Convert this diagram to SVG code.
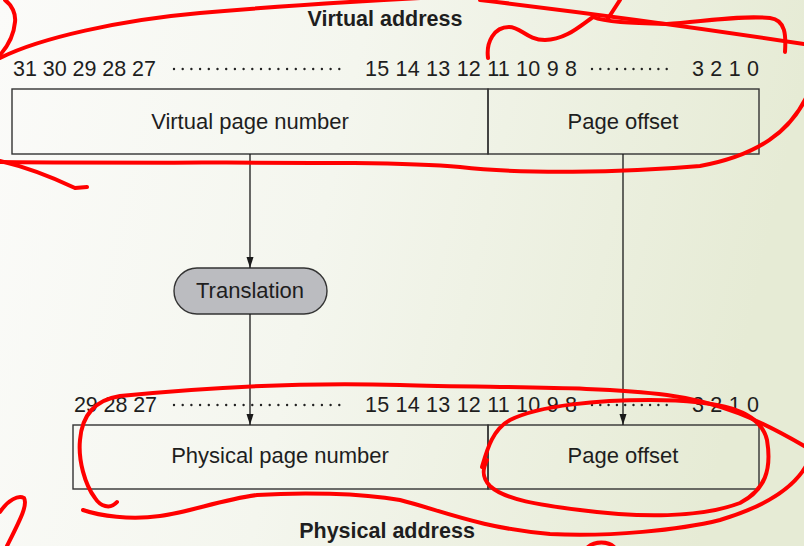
<svg xmlns="http://www.w3.org/2000/svg" width="804" height="546" viewBox="0 0 804 546">
<defs>
<linearGradient id="bg" x1="0" y1="0" x2="1" y2="0.15">
<stop offset="0" stop-color="#fbfbf9"/>
<stop offset="0.45" stop-color="#f4f6ee"/>
<stop offset="1" stop-color="#e6ebd5"/>
</linearGradient>
<marker id="ah" markerUnits="userSpaceOnUse" markerWidth="12" markerHeight="8" refX="11" refY="4" orient="auto" viewBox="0 0 12 8">
<path d="M0,0.5 L11,4 L0,7.5 Z" fill="#1a1a1a"/>
</marker>
</defs>
<style>
.t{font-family:"Liberation Sans",Arial,Helvetica,sans-serif;font-size:22px;fill:#1e1e1e}
.n{font-family:"Liberation Sans",Arial,Helvetica,sans-serif;font-size:21.5px;fill:#1e1e1e}
.b{font-family:"Liberation Sans",Arial,Helvetica,sans-serif;font-size:21.5px;font-weight:bold;fill:#1e1e1e}
.box{fill:none;stroke:#333;stroke-width:1.4}
.dot{stroke:#222;stroke-width:2.4;stroke-linecap:round;fill:none}
.ln{stroke:#1a1a1a;stroke-width:1.3;fill:none}
.red{stroke:#ff0000;stroke-width:4;fill:none;stroke-linecap:round;stroke-linejoin:round}
</style>
<rect width="804" height="546" fill="url(#bg)"/>

<g id="virtual-address-label"><text class="b" x="385" y="26" text-anchor="middle">Virtual address</text></g>
<g id="virtual-bits">
<text class="n" x="13" y="76" textLength="143">31 30 29 28 27</text>
<line class="dot" x1="174" y1="69" x2="348" y2="69" stroke-dasharray="0 8.7"/>
<text class="n" x="365" y="76" textLength="212">15 14 13 12 11 10 9 8</text>
<line class="dot" x1="592" y1="69" x2="675" y2="69" stroke-dasharray="0 8.3"/>
<text class="n" x="692" y="76" textLength="67">3 2 1 0</text>
</g>
<g id="virtual-page-number">
<rect class="box" x="12" y="89" width="476" height="65"/>
<text class="t" x="250" y="129" text-anchor="middle">Virtual page number</text>
</g>
<g id="virtual-page-offset">
<rect class="box" x="488" y="89" width="271" height="65"/>
<text class="t" x="623" y="129" text-anchor="middle">Page offset</text>
</g>
<g id="translation">
<rect x="174" y="268" width="153" height="46" rx="23" ry="23" fill="#bbbcc0" stroke="#333" stroke-width="1.4"/>
<text class="t" x="250" y="298" text-anchor="middle">Translation</text>
</g>
<g id="physical-bits">
<text class="n" x="74" y="412" textLength="83">29 28 27</text>
<line class="dot" x1="174" y1="405" x2="348" y2="405" stroke-dasharray="0 8.7"/>
<text class="n" x="365" y="412" textLength="212">15 14 13 12 11 10 9 8</text>
<line class="dot" x1="592" y1="405" x2="675" y2="405" stroke-dasharray="0 8.3"/>
<text class="n" x="692" y="412" textLength="67">3 2 1 0</text>
</g>
<g id="physical-page-number">
<rect class="box" x="73" y="425" width="415" height="64"/>
<text class="t" x="280" y="463" text-anchor="middle">Physical page number</text>
</g>
<g id="physical-page-offset">
<rect class="box" x="488" y="425" width="271" height="64"/>
<text class="t" x="623" y="463" text-anchor="middle">Page offset</text>
</g>
<g id="physical-address-label"><text class="b" x="387" y="538" text-anchor="middle">Physical address</text></g>

<g id="connectors">
<line class="ln" x1="250" y1="154" x2="250" y2="268" marker-end="url(#ah)"/>
<line class="ln" x1="250" y1="314" x2="250" y2="425" marker-end="url(#ah)"/>
<line class="ln" x1="623" y1="154" x2="623" y2="425" marker-end="url(#ah)"/>
</g>

<g id="annotations">
<path class="red" d="M5,0 C12,5 16,14 15,22 C14,34 8,46 0,55"/>
<path class="red" d="M0,58 C40,38 120,20 200,13 C280,6 360,1 440,-3"/>
<path class="red" d="M480,0 C580,12 700,28 804,44"/>
<path class="red" d="M607,20 L620,0"/>
<path class="red" d="M488,58 C486,42 494,27 509,27 C521,27 527,40 545,40 C565,40 580,26 593,17 C605,22 630,23 667,24 C700,22 740,15 770,18 C786,20 786,36 785,52"/>
<path class="red" d="M806,98 C790,130 760,155 700,166 C620,173 520,174 460,167 C380,160 200,164 0,162"/>
<path class="red" d="M0,161 C30,168 58,180 75,188 L87,187"/>
<path class="red" d="M117,502 C110,510 100,506 95,498 C85,485 78,460 80,440 C82,415 95,400 120,396 C200,388 300,382 400,385 C500,388 600,386 667,395 C720,402 760,420 806,447"/>
<path class="red" d="M806,466 C795,485 770,505 720,520 C680,530 610,537 550,534 C480,528 440,510 400,500 C360,493 300,492 257,495 C220,500 190,512 160,516 C130,520 100,516 83,510"/>
<path class="red" d="M487,460 C482,470 482,478 490,486 C505,500 540,505 580,510 C640,518 700,518 740,503 C765,490 772,470 767,440 C760,410 720,400 650,400 C600,400 540,405 510,420 C492,430 487,450 482,467"/>
<path class="red" d="M0,512 C8,500 18,495 24,498 C28,505 20,520 7,546"/>
<path class="red" d="M588,547 C595,541 608,541 614,547"/>
</g>
</svg>
